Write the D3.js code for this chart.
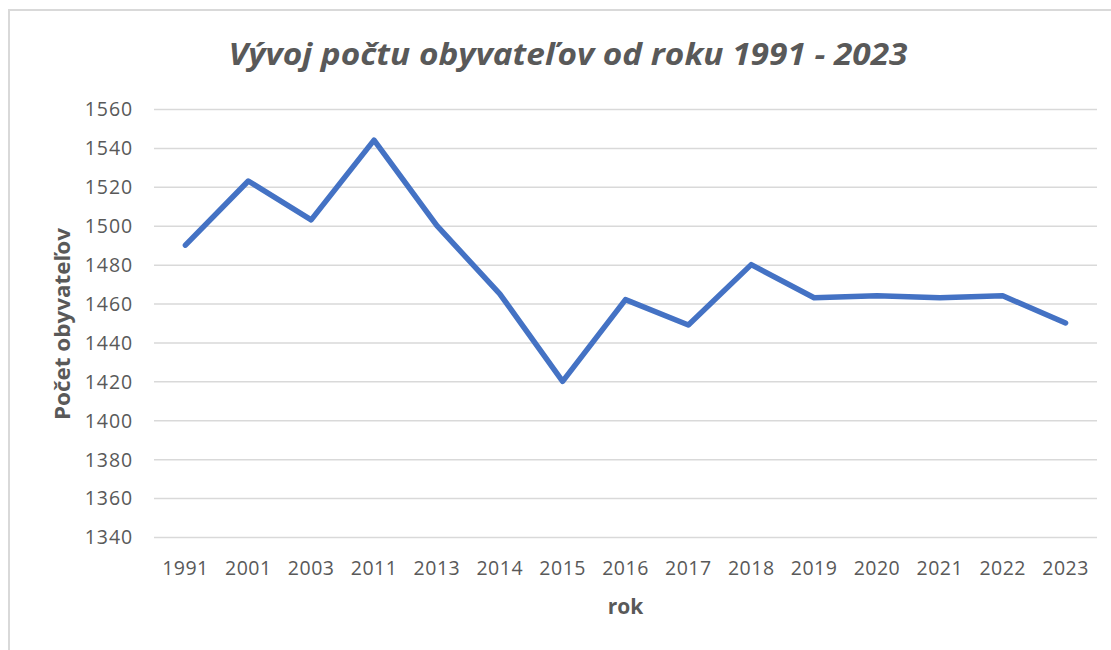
<!DOCTYPE html>
<html>
<head>
<meta charset="utf-8">
<script src="https://cdn.jsdelivr.net/npm/d3@7"></script>
<style>
html,body{margin:0;padding:0;background:#fff;}
svg{display:block;}
</style>
</head>
<body>
<svg id="chart" width="1111" height="650"></svg>
<script>
const years = ["1991","2001","2003","2011","2013","2014","2015","2016","2017","2018","2019","2020","2021","2022","2023"];
const population = [1490,1523,1503,1544,1500,1465,1420,1462,1449,1480,1463,1464,1463,1464,1450];
const yTicks = [1340,1360,1380,1400,1420,1440,1460,1480,1500,1520,1540,1560];
const titleText = "Vývoj počtu obyvateľov od roku 1991 - 2023";
const yTitle = "Počet obyvateľov";
const xTitle = "rok";

const svg = d3.select("#chart");
const font = "'Open Sans', 'Noto Sans', sans-serif";
const gray = "#595959";

// outer frame
svg.append("rect").attr("x",9).attr("y",10).attr("width",1130).attr("height",660)
  .attr("fill","none").attr("stroke","#d9d9d9").attr("stroke-width",2);

const m = {left:154, right:1097, top:109, bottom:537};
const x = d3.scaleBand().domain(years).range([m.left, m.right]);
const y = d3.scaleLinear().domain([1340,1560]).range([m.bottom, m.top]);

// gridlines
const yAxis = d3.axisLeft(y).tickValues(yTicks).tickFormat(d3.format("d"))
  .tickSize(-(m.right-m.left)).tickPadding(21);
const gy = svg.append("g").attr("transform",`translate(${m.left},0)`).call(yAxis);
gy.select(".domain").remove();
gy.selectAll(".tick line").attr("stroke","#d9d9d9").attr("stroke-width",1.5);
gy.selectAll(".tick text").attr("fill",gray).attr("font-family",font)
  .attr("font-size",19.5).attr("letter-spacing","0.9px").attr("dy","0.35em");

const xAxis = d3.axisBottom(x).tickSize(0).tickPadding(24);
const gx = svg.append("g").attr("transform",`translate(0,${m.bottom})`).call(xAxis);
gx.select(".domain").remove();
gx.selectAll(".tick text").attr("fill",gray).attr("font-family",font)
  .attr("font-size",19.5).attr("letter-spacing","0.5px");

// line
const line = d3.line().x((d,i)=>x(years[i])+x.bandwidth()/2).y(d=>y(d));
svg.append("path").datum(population).attr("d",line)
  .attr("fill","none").attr("stroke","#4472c4").attr("stroke-width",5.5)
  .attr("stroke-linejoin","round").attr("stroke-linecap","round");

// titles
svg.append("text").attr("x",568).attr("y",65).attr("text-anchor","middle")
  .attr("font-family",font).attr("font-size",30).attr("font-weight","bold").attr("font-style","italic")
  .attr("fill",gray).attr("textLength",679).attr("lengthAdjust","spacingAndGlyphs").text(titleText);

svg.append("text").attr("transform","translate(70,324) rotate(-90)").attr("text-anchor","middle")
  .attr("font-family",font).attr("font-size",21).attr("font-weight","bold")
  .attr("fill",gray).attr("textLength",192).attr("lengthAdjust","spacingAndGlyphs").text(yTitle);

svg.append("text").attr("x",(m.left+m.right)/2).attr("y",614).attr("text-anchor","middle")
  .attr("font-family",font).attr("font-size",21).attr("font-weight","bold")
  .attr("fill",gray).text(xTitle);
</script>
</body>
</html>
